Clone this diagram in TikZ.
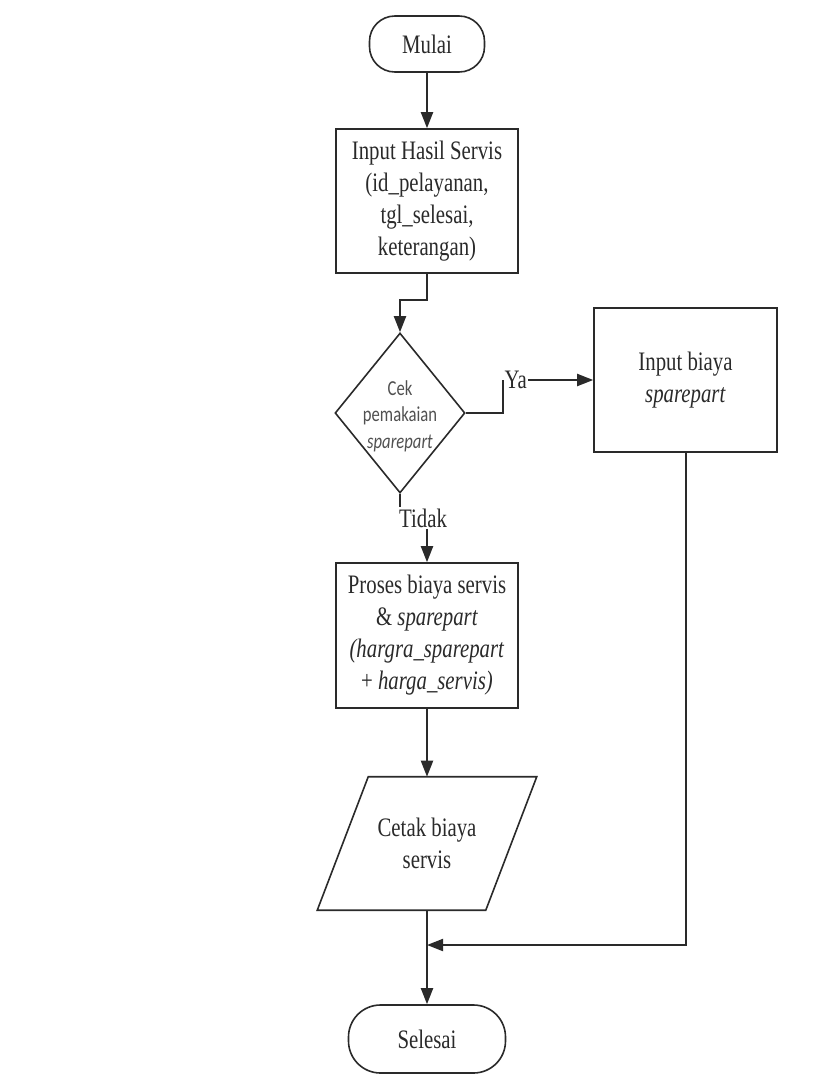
\documentclass[tikz,border=0pt]{standalone}
\usepackage{fontspec}
\setmainfont[FakeStretch=0.78]{Liberation Serif}
\newfontfamily\diafont[FakeStretch=0.78]{Carlito}
\usetikzlibrary{arrows.meta,calc,shapes.geometric}
\definecolor{linec}{HTML}{2A2A2A}
\definecolor{txtc}{HTML}{2A2A2A}
\definecolor{diatxt}{HTML}{505050}
\begin{document}
\begin{tikzpicture}[x=0.75pt,y=-0.75pt,
  every node/.style={text=txtc, font=\fontsize{20}{24}\selectfont},
  box/.style={draw=linec, line width=1.2pt, minimum width=136.5pt, minimum height=108pt, align=center, inner sep=0pt},
  term/.style={draw=linec, line width=1.2pt, align=center, inner sep=0pt},
  dia/.style={draw=linec, line width=1.2pt, shape=diamond, inner sep=0pt, minimum width=97.5pt, minimum height=120pt},
  diatext/.style={align=center, inner sep=0pt, text=diatxt, font=\diafont\fontsize{16}{20}\selectfont},
  shapeline/.style={draw=linec, line width=1.2pt},
  conn/.style={draw=linec, line width=1.5pt},
  arr/.style={conn, -{Triangle[length=12pt,width=9pt]}},
  lbl/.style={inner sep=1pt}
]
\useasboundingbox (0,0) rectangle (822,1075);

% nodes
\node[term, minimum width=86.25pt, minimum height=42pt, rounded corners=19pt] (mulai) at (427,44) {Mulai};
\node[box] (input) at (427,201) {Input Hasil Servis\\(id\_pelayanan,\\tgl\_selesai,\\keterangan)};
\node[dia] (cek) at (400,413) {};
\node[diatext] (cektext) at (400,416) {Cek\\pemakaian\\\textit{sparepart}};
\node[box, minimum width=137.25pt] (ibiaya) at (685.5,380) {Input biaya\\\textit{sparepart}};
\node[box, minimum height=108.75pt] (proses) at (427,635.5) {Proses biaya servis\\\& \textit{sparepart}\\\textit{(hargra\_sparepart}\\+ \textit{harga\_servis)}};
\node[minimum width=126pt, minimum height=99.75pt, inner sep=0pt, align=center] (cetak) at (427,843.5) {Cetak biaya\\servis};
\draw[shapeline] ($(cetak.north west)+(25.5,0)$) -- ($(cetak.north east)+(25.5,0)$) -- ($(cetak.south east)+(-25.5,0)$) -- ($(cetak.south west)+(-25.5,0)$) -- cycle;
\node[term, minimum width=117.75pt, minimum height=51pt, rounded corners=24pt] (selesai) at (427,1039) {Selesai};

% helper coordinates
\coordinate (bend1) at (400,300);
\coordinate (yacorner) at (503,380);
\coordinate (join) at (427,945);
\node[lbl, anchor=west] (ya) at (yacorner) {Ya};
\node[lbl] (tidak) at (423,518) {Tidak};

% connectors
\draw[arr] (mulai) -- (input);
\draw[arr] (input.south) -- (input.south |- bend1) -| (cek.north);
\draw[conn] (cek.east) -| (yacorner);
\draw[arr] (ya.east) -- (ibiaya.west);
\draw[conn] (cek.south) -- (cek.south |- tidak.north);
\draw[arr] (tidak.south -| proses.north) -- (proses.north);
\draw[arr] (proses) -- (cetak);
\draw[arr] (ibiaya.south) |- (join);
\draw[arr] (cetak.south) -- (selesai.north);
\end{tikzpicture}
\end{document}
